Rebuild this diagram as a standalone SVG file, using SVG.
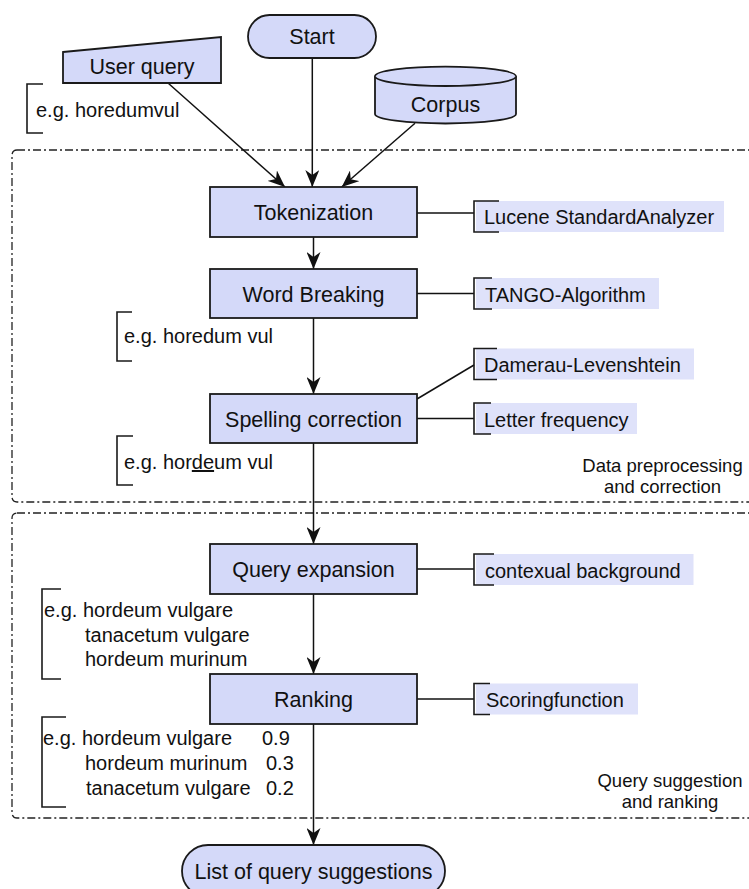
<svg xmlns="http://www.w3.org/2000/svg" width="749" height="889" viewBox="0 0 749 889">
<style>
text{font-family:"Liberation Sans",Arial,sans-serif;fill:#111}
.node{fill:#d4d9f9;stroke:#1a1a1a;stroke-width:1.8}
.nt{font-size:21.5px;text-anchor:middle}
.lbl{fill:#dfe2fa;stroke:none}
.lt{font-size:20px}
.br{fill:none;stroke:#1a1a1a;stroke-width:1.6}
.con{fill:none;stroke:#111;stroke-width:1.5}
.grp{fill:none;stroke:#222;stroke-width:1.3;stroke-dasharray:8 3 2 3}
.gt{font-size:18.5px;text-anchor:middle}
</style>
<defs>
<marker id="arr" viewBox="0 0 18 14" refX="17" refY="7" markerWidth="18" markerHeight="14" orient="auto" markerUnits="userSpaceOnUse">
<path d="M0,0 L17,7 L0,14 L5,7 Z" fill="#111"/>
</marker>
</defs>

<g id="groups">
<rect class="grp" x="12" y="150" width="760" height="352" rx="5"/>
<rect class="grp" x="12" y="513" width="760" height="305" rx="5"/>
<text class="gt" x="662.5" y="472">Data preprocessing</text>
<text class="gt" x="662.5" y="493">and correction</text>
<text class="gt" x="670" y="787">Query suggestion</text>
<text class="gt" x="670" y="808">and ranking</text>
</g>

<g id="connectors">
<line class="con" x1="168.3" y1="83.3" x2="285" y2="187" marker-end="url(#arr)"/>
<line class="con" x1="312.3" y1="58" x2="312.3" y2="187" marker-end="url(#arr)"/>
<line class="con" x1="415" y1="123.3" x2="341.7" y2="187" marker-end="url(#arr)"/>
<line class="con" x1="313.5" y1="237" x2="313.5" y2="269" marker-end="url(#arr)"/>
<line class="con" x1="313.5" y1="318" x2="313.5" y2="394" marker-end="url(#arr)"/>
<line class="con" x1="313.5" y1="443" x2="313.5" y2="544" marker-end="url(#arr)"/>
<line class="con" x1="313.5" y1="594" x2="313.5" y2="674" marker-end="url(#arr)"/>
<line class="con" x1="313.5" y1="724" x2="313.5" y2="845" marker-end="url(#arr)"/>
<line class="con" x1="417" y1="213" x2="474" y2="213"/>
<line class="con" x1="417" y1="293.5" x2="474" y2="293.5"/>
<line class="con" x1="417" y1="399" x2="474" y2="365"/>
<line class="con" x1="417" y1="418.5" x2="474" y2="418.5"/>
<line class="con" x1="417" y1="569" x2="474" y2="569"/>
<line class="con" x1="417" y1="699" x2="474" y2="699"/>
</g>

<g id="start">
<rect class="node" x="248" y="15" width="128" height="43" rx="21.5"/>
<text class="nt" x="312" y="44">Start</text>
</g>

<g id="userquery">
<polygon class="node" points="63,52 221,37 221,83 63,83"/>
<text class="nt" x="142" y="74">User query</text>
</g>

<g id="corpus">
<path class="node" d="M375,76.3 A70.5,9.7 0 0 1 516,76.3 L516,114 A70.5,9.5 0 0 1 375,114 Z"/>
<path class="node" d="M375,76.3 A70.5,9.7 0 0 0 516,76.3" fill="none"/>
<text class="nt" x="445.5" y="111.5">Corpus</text>
</g>

<g id="note-horedumvul">
<path class="br" d="M43,84 H27 V133 H43"/>
<text class="lt" x="36" y="117">e.g. horedumvul</text>
</g>

<g id="tokenization">
<rect class="node" x="210" y="187" width="207" height="50"/>
<text class="nt" x="313.5" y="219.5">Tokenization</text>
</g>

<g id="wordbreaking">
<rect class="node" x="210" y="269" width="207" height="49"/>
<text class="nt" x="313.5" y="302">Word Breaking</text>
</g>

<g id="spelling">
<rect class="node" x="210" y="394" width="207" height="49"/>
<text class="nt" x="313.5" y="426.5">Spelling correction</text>
</g>

<g id="queryexpansion">
<rect class="node" x="210" y="544" width="207" height="50"/>
<text class="nt" x="313.5" y="577">Query expansion</text>
</g>

<g id="ranking">
<rect class="node" x="210" y="674" width="207" height="50"/>
<text class="nt" x="313.5" y="707">Ranking</text>
</g>

<g id="list">
<rect class="node" x="182" y="845" width="263" height="52" rx="26"/>
<text class="nt" x="313.5" y="879">List of query suggestions</text>
</g>

<g id="note-horedum-vul">
<path class="br" d="M132,312 H117 V361 H132"/>
<text class="lt" x="124" y="343">e.g. horedum vul</text>
</g>

<g id="note-hordeum-vul">
<path class="br" d="M133,436 H117 V485 H133"/>
<text class="lt" x="124" y="469">e.g. hor<tspan text-decoration="underline">de</tspan>um vul</text>
</g>

<g id="note-expansion">
<path class="br" d="M61,589 H42 V679 H61"/>
<text class="lt" x="44" y="616.5">e.g. hordeum vulgare</text>
<text class="lt" x="85" y="641.5">tanacetum vulgare</text>
<text class="lt" x="85" y="666">hordeum murinum</text>
</g>

<g id="note-ranking">
<path class="br" d="M66,717 H42 V807 H66"/>
<text class="lt" x="43" y="745">e.g. hordeum vulgare</text>
<text class="lt" x="262" y="745">0.9</text>
<text class="lt" x="85" y="770">hordeum murinum</text>
<text class="lt" x="266" y="770">0.3</text>
<text class="lt" x="86" y="794.5">tanacetum vulgare</text>
<text class="lt" x="266" y="794.5">0.2</text>
</g>

<g id="lbl-lucene">
<rect class="lbl" x="476" y="201" width="248" height="31"/>
<path class="br" d="M499,201 H474 V232 H499"/>
<text class="lt" x="484" y="224">Lucene StandardAnalyzer</text>
</g>

<g id="lbl-tango">
<rect class="lbl" x="476" y="278" width="183" height="31"/>
<path class="br" d="M492,278 H474 V309 H492"/>
<text class="lt" x="485" y="301.5">TANGO-Algorithm</text>
</g>

<g id="lbl-damerau">
<rect class="lbl" x="476" y="348.5" width="218" height="31"/>
<path class="br" d="M497,348.5 H474 V379.5 H497"/>
<text class="lt" x="484" y="371.5">Damerau-Levenshtein</text>
</g>

<g id="lbl-letter">
<rect class="lbl" x="476" y="403" width="161" height="31"/>
<path class="br" d="M491,403 H474 V434 H491"/>
<text class="lt" x="484" y="426.5">Letter frequency</text>
</g>

<g id="lbl-contexual">
<rect class="lbl" x="476" y="554" width="217.5" height="31"/>
<path class="br" d="M494,554 H474 V585 H494"/>
<text class="lt" x="485" y="577.5">contexual background</text>
</g>

<g id="lbl-scoring">
<rect class="lbl" x="476" y="683.5" width="162" height="31"/>
<path class="br" d="M490,683.5 H474 V714.5 H490"/>
<text class="lt" x="486" y="706.5">Scoringfunction</text>
</g>
</svg>
